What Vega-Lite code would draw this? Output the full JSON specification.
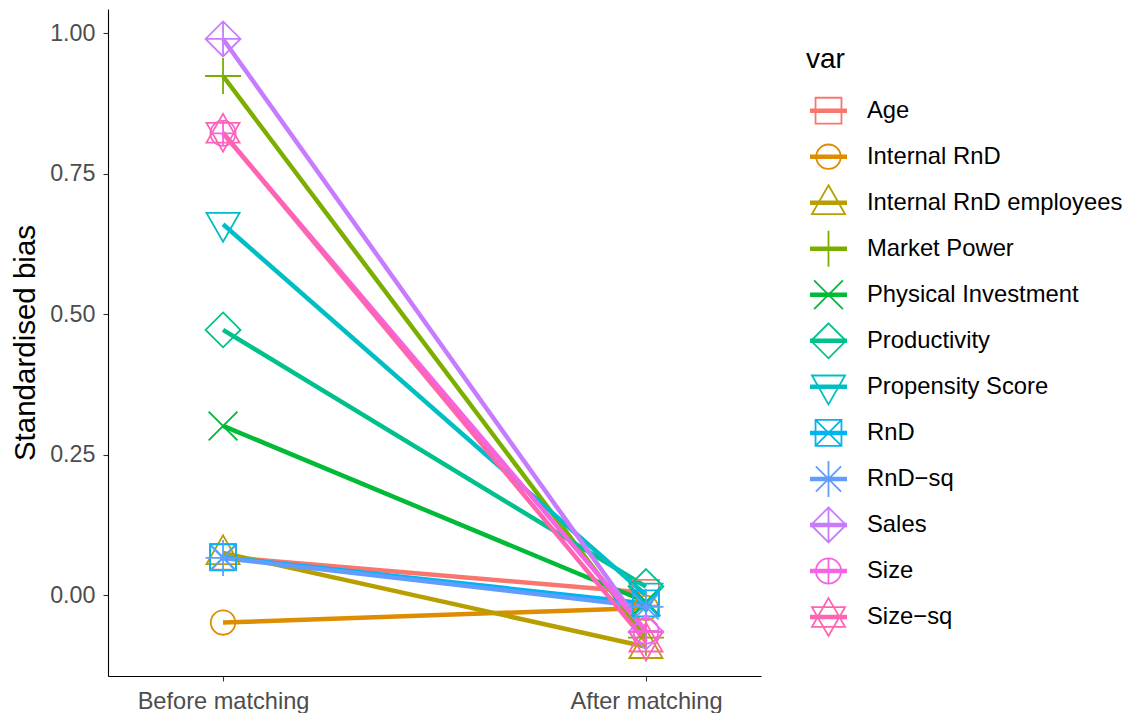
{
  "$schema": "https://vega.github.io/schema/vega-lite/v6.json",
  "background": "white",
  "padding": {"left": 10, "top": 9, "right": 0, "bottom": 0},
  "bounds": "flush",
  "spacing": 49,
  "config": {"font": "Liberation Sans", "view": {"stroke": null}},
  "data": {"values": [
    {"var": "Age", "stage": "Before matching", "bias": 0.068},
    {"var": "Internal RnD", "stage": "Before matching", "bias": -0.049},
    {"var": "Internal RnD employees", "stage": "Before matching", "bias": 0.075},
    {"var": "Market Power", "stage": "Before matching", "bias": 0.924},
    {"var": "Physical Investment", "stage": "Before matching", "bias": 0.301},
    {"var": "Productivity", "stage": "Before matching", "bias": 0.472},
    {"var": "Propensity Score", "stage": "Before matching", "bias": 0.660},
    {"var": "RnD", "stage": "Before matching", "bias": 0.067},
    {"var": "RnD−sq", "stage": "Before matching", "bias": 0.066},
    {"var": "Sales", "stage": "Before matching", "bias": 0.990},
    {"var": "Size", "stage": "Before matching", "bias": 0.822},
    {"var": "Size−sq", "stage": "Before matching", "bias": 0.823},
    {"var": "Age", "stage": "After matching", "bias": 0.004},
    {"var": "Internal RnD", "stage": "After matching", "bias": -0.023},
    {"var": "Internal RnD employees", "stage": "After matching", "bias": -0.092},
    {"var": "Market Power", "stage": "After matching", "bias": -0.076},
    {"var": "Physical Investment", "stage": "After matching", "bias": -0.012},
    {"var": "Productivity", "stage": "After matching", "bias": 0.015},
    {"var": "Propensity Score", "stage": "After matching", "bias": 0.0},
    {"var": "RnD", "stage": "After matching", "bias": -0.015},
    {"var": "RnD−sq", "stage": "After matching", "bias": -0.021},
    {"var": "Sales", "stage": "After matching", "bias": -0.066},
    {"var": "Size", "stage": "After matching", "bias": -0.064},
    {"var": "Size−sq", "stage": "After matching", "bias": -0.083}
  ]},
  "hconcat": [
    {
      "width": 653,
      "height": 667,
      "encoding": {
        "x": {"field": "stage", "type": "ordinal", "sort": ["Before matching", "After matching"],
              "scale": {"type": "point", "padding": 0.272},
              "axis": {"title": null, "labelAngle": 0, "labelFontSize": 23.6, "labelColor": "#4d4d4d", "labelPadding": 8,
                       "domainColor": "black", "domainWidth": 1.1, "tickColor": "#333333", "tickWidth": 1.1, "tickSize": 5, "grid": false}},
        "y": {"field": "bias", "type": "quantitative",
              "scale": {"domain": [-0.1442, 1.0433], "nice": false, "zero": false},
              "axis": {"values": [0, 0.25, 0.5, 0.75, 1], "format": ".2f", "grid": false,
                       "domainColor": "black", "domainWidth": 1.1, "tickColor": "#333333", "tickWidth": 1.1, "tickSize": 5,
                       "labelFontSize": 23.3, "labelColor": "#4d4d4d", "labelPadding": 8,
                       "title": "Standardised bias", "titleFontSize": 29.5, "titleFontWeight": "normal", "titleColor": "black", "titlePadding": 9}}
      },
      "layer": [
        {
          "mark": {"type": "line", "strokeWidth": 4.5},
          "encoding": {
            "color": {"field": "var", "type": "nominal", "legend": null,
                      "scale": {"domain": ["Age", "Internal RnD", "Internal RnD employees", "Market Power", "Physical Investment", "Productivity", "Propensity Score", "RnD", "RnD−sq", "Sales", "Size", "Size−sq"],
                                "range": ["#F8766D", "#DE8C00", "#B79F00", "#7CAE00", "#00BA38", "#00C08B", "#00BFC4", "#00B4F0", "#619CFF", "#C77CFF", "#F564E3", "#FF64B0"]}}
          }
        },
        {
          "mark": {"type": "point", "filled": false, "strokeWidth": 1.8, "size": 1296, "opacity": 1},
          "encoding": {
            "color": {"field": "var", "type": "nominal", "legend": null},
            "shape": {"field": "var", "type": "nominal", "legend": null,
                      "scale": {"domain": ["Age", "Internal RnD", "Internal RnD employees", "Market Power", "Physical Investment", "Productivity", "Propensity Score", "RnD", "RnD−sq", "Sales", "Size", "Size−sq"],
                                "range": [
                                  "M-0.72,-0.72L0.72,-0.72L0.72,0.72L-0.72,0.72Z",
                                  "M0.68,0A0.68,0.68,0,1,1,-0.68,0A0.68,0.68,0,1,1,0.68,0Z",
                                  "M0,-0.97L0.92,0.63L-0.92,0.63Z",
                                  "M-1,0L1,0M0,-1L0,1",
                                  "M-0.8,-0.8L0.8,0.8M-0.8,0.8L0.8,-0.8",
                                  "M0,-0.97L0.97,0L0,0.97L-0.97,0Z",
                                  "M0,0.97L0.92,-0.63L-0.92,-0.63Z",
                                  "M-0.72,-0.72L0.72,-0.72L0.72,0.72L-0.72,0.72ZM-0.72,-0.72L0.72,0.72M-0.72,0.72L0.72,-0.72",
                                  "M-0.97,0L0.97,0M0,-1L0,1M-0.7,-0.7L0.7,0.7M-0.7,0.7L0.7,-0.7",
                                  "M0,-0.97L0.97,0L0,0.97L-0.97,0ZM-0.97,0L0.97,0M0,-0.97L0,0.97",
                                  "M0.7,0A0.7,0.7,0,1,1,-0.7,0A0.7,0.7,0,1,1,0.7,0ZM-0.7,0L0.7,0M0,-0.7L0,0.7",
                                  "M0,-1.05L0.92,0.55L-0.92,0.55ZM0,1.05L0.92,-0.55L-0.92,-0.55Z"
                                ]}}
          }
        }
      ]
    },
    {
      "width": 37,
      "height": 667,
      "transform": [{"filter": "datum.stage === 'Before matching'"}],
      "title": {"text": "var", "anchor": "start", "frame": "group", "offset": -87, "baseline": "alphabetic", "dx": -4, "fontSize": 28, "fontWeight": "normal", "color": "black"},
      "encoding": {
        "y": {"field": "var", "type": "nominal",
              "sort": ["Age", "Internal RnD", "Internal RnD employees", "Market Power", "Physical Investment", "Productivity", "Propensity Score", "RnD", "RnD−sq", "Sales", "Size", "Size−sq"],
              "scale": {"type": "point", "padding": 0, "range": [101.7, 608]}, "axis": null}
      },
      "layer": [
        {
          "mark": {"type": "rule", "strokeWidth": 4.5},
          "encoding": {
            "x": {"datum": 0, "type": "quantitative", "scale": {"domain": [0, 1]}, "axis": null},
            "x2": {"datum": 1},
            "color": {"field": "var", "type": "nominal", "legend": null}
          }
        },
        {
          "mark": {"type": "point", "filled": false, "strokeWidth": 1.8, "size": 1296, "opacity": 1},
          "encoding": {
            "x": {"datum": 0.5, "type": "quantitative"},
            "color": {"field": "var", "type": "nominal", "legend": null},
            "shape": {"field": "var", "type": "nominal", "legend": null}
          }
        },
        {
          "mark": {"type": "text", "align": "left", "baseline": "middle", "dx": 20, "fontSize": 23.8, "color": "black"},
          "encoding": {
            "x": {"datum": 1, "type": "quantitative"},
            "text": {"field": "var"}
          }
        }
      ]
    }
  ]
}
